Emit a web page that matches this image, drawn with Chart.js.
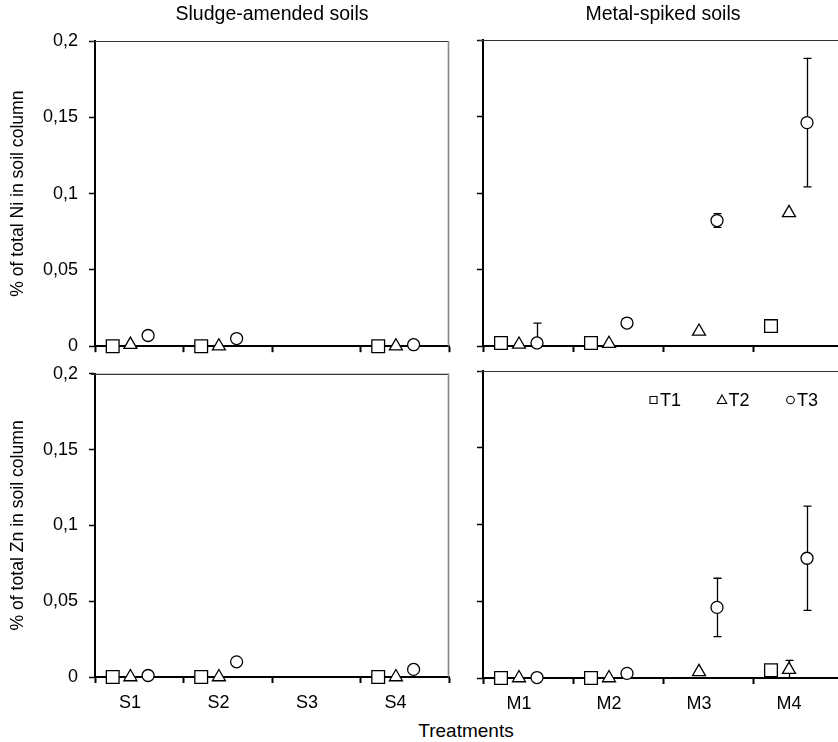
<!DOCTYPE html>
<html>
<head>
<meta charset="utf-8">
<script src="https://cdn.jsdelivr.net/npm/chart.js@4.4.1/dist/chart.umd.min.js"></script>
<style>
  body { margin: 0; width: 838px; height: 742px; overflow: hidden; background: #fff; position: relative;
         font-family: "Liberation Sans", Arial, sans-serif; }
  canvas { position: absolute; }
  #xTitle { position: absolute; left: 366px; width: 200px; top: 720px; text-align: center; font-size: 19px; color: #000; }
</style>
</head>
<body>
<canvas id="niSludge" width="460" height="368" style="left:0;top:0"></canvas>
<canvas id="niMetal"  width="400" height="360" style="left:460px;top:0"></canvas>
<canvas id="znSludge" width="460" height="368" style="left:0;top:352px"></canvas>
<canvas id="znMetal"  width="400" height="360" style="left:460px;top:360px"></canvas>
<div id="xTitle">Treatments</div>

<script>
// --- Data ---
const sludgeLabels = ["S1", "S2", "S3", "S4"];
const metalLabels  = ["M1", "M2", "M3", "M4"];
const seriesNames  = ["T1", "T2", "T3"];
const yTickLabels  = ["0", "0,05", "0,1", "0,15", "0,2"];

const niSludgeT1 = [0, 0, null, 0];
const niSludgeT2 = [0.001, 0, null, 0];
const niSludgeT3 = [0.007, 0.005, null, 0.001];

const niMetalT1    = [0.002, 0.002, null, 0.013];
const niMetalT2    = [0.001, 0.0015, 0.0095, 0.087];
const niMetalT3    = [0.002, 0.015, 0.082, 0.146];
const niMetalT3Err = [0.013, 0, 0.0045, 0.042];

const znSludgeT1 = [0, 0, null, 0];
const znSludgeT2 = [0, 0, null, 0];
const znSludgeT3 = [0.001, 0.010, null, 0.005];

const znMetalT1    = [0, 0, null, 0.005];
const znMetalT2    = [0, 0, 0.004, 0.0055];
const znMetalT2Err = [0, 0, 0, 0.006];
const znMetalT3    = [0.0003, 0.003, 0.046, 0.078];
const znMetalT3Err = [0, 0, 0.019, 0.034];

// --- Styling ---
const FONT = '"Liberation Sans", Arial, sans-serif';
const seriesOffset = [-0.3, -0.1, 0.1];
const markerStyle = [
  { pointStyle: "rect",     pointRadius: 9 },
  { pointStyle: "triangle", pointRadius: 7.5 },
  { pointStyle: "circle",   pointRadius: 6 }
];

Chart.defaults.font.family = FONT;
Chart.defaults.color = "#000";

// error bars drawn under the markers, clipped to the plot
const errorBars = {
  id: "errorBars",
  beforeDatasetsDraw(chart) {
    const { ctx, chartArea, scales: { x, y } } = chart;
    ctx.save();
    ctx.beginPath();
    ctx.rect(chartArea.left, chartArea.top, chartArea.width, chartArea.height);
    ctx.clip();
    ctx.strokeStyle = "#000";
    ctx.lineWidth = 1.3;
    chart.data.datasets.forEach(ds => {
      ds.data.forEach(p => {
        if (!p.err) return;
        const px = Math.round(x.getPixelForValue(p.x)) + 0.5;
        const top = y.getPixelForValue(p.y + p.err);
        const bot = y.getPixelForValue(p.y - p.err);
        ctx.beginPath();
        ctx.moveTo(px, top); ctx.lineTo(px, bot);
        ctx.moveTo(px - 4, top); ctx.lineTo(px + 4, top);
        ctx.moveTo(px - 4, bot); ctx.lineTo(px + 4, bot);
        ctx.stroke();
      });
    });
    ctx.restore();
  }
};

// frame: dark top line, grey right line
const frame = {
  id: "frame",
  beforeDatasetsDraw(chart) {
    const { ctx, chartArea: a } = chart;
    ctx.save();
    ctx.strokeStyle = "#333";
    ctx.lineWidth = 1.2;
    ctx.beginPath();
    ctx.moveTo(a.left - 4, a.top + 0.5); ctx.lineTo(a.right, a.top + 0.5);
    ctx.stroke();
    ctx.strokeStyle = "#888";
    ctx.lineWidth = 1.6;
    ctx.beginPath();
    ctx.moveTo(a.right - 0.5, a.top); ctx.lineTo(a.right - 0.5, a.bottom);
    ctx.stroke();
    ctx.restore();
  }
};

// legend placed inside the plot (bottom-right panel only)
const insideLegend = {
  id: "insideLegend",
  afterDraw(chart, args, opts) {
    if (!opts.show) return;
    const { ctx, chartArea } = chart;
    const y = chartArea.top + 29;
    ctx.save();
    ctx.font = "18px " + FONT;
    ctx.textBaseline = "middle";
    ctx.lineWidth = 1.1;
    ctx.strokeStyle = "#000";
    chart.data.datasets.forEach((ds, i) => {
      const x = chartArea.left + 170.5 + i * 68.5;
      ctx.fillStyle = "#fff";
      ctx.beginPath();
      if (ds.pointStyle === "rect") {
        ctx.rect(x - 3.5, y - 3.5, 7, 7);
      } else if (ds.pointStyle === "triangle") {
        ctx.moveTo(x, y - 5); ctx.lineTo(x + 4.7, y + 3.5); ctx.lineTo(x - 4.7, y + 3.5); ctx.closePath();
      } else {
        ctx.arc(x, y, 3.8, 0, Math.PI * 2);
      }
      ctx.fill(); ctx.stroke();
      ctx.fillStyle = "#000";
      ctx.fillText(ds.label, x + 6.5, y + 1);
    });
    ctx.restore();
  }
};

function buildDatasets(series, errs) {
  return series.map((values, s) => ({
    label: seriesNames[s],
    data: values
      .map((v, i) => v === null ? null : { x: i + 1 + seriesOffset[s], y: v, err: errs[s] ? errs[s][i] : 0 })
      .filter(p => p !== null),
    pointStyle: markerStyle[s].pointStyle,
    pointRadius: markerStyle[s].pointRadius,
    pointBackgroundColor: "#fff",
    pointBorderColor: "#000",
    pointBorderWidth: 1.3,
    clip: false
  }));
}

function makePanel(id, cfg) {
  const boundaries = cfg.labels.map((_, i) => i + 0.5).concat(cfg.labels.length + 0.5);
  return new Chart(document.getElementById(id), {
    type: "scatter",
    data: { datasets: buildDatasets(cfg.series, cfg.errs) },
    options: {
      responsive: false,
      animation: false,
      devicePixelRatio: 1,
      layout: { padding: { top: cfg.padTop, right: cfg.padRight, left: 0, bottom: 0 } },
      plugins: {
        legend: { display: false },
        tooltip: { enabled: false },
        title: {
          display: !!cfg.title,
          text: cfg.title,
          fullSize: false,
          color: "#000",
          font: { size: 19.5, weight: "normal" },
          padding: { top: 3, bottom: cfg.titleGap || 0 }
        },
        insideLegend: { show: !!cfg.legend }
      },
      scales: {
        x: {
          type: "linear",
          min: 0.5,
          max: cfg.labels.length + 0.5,
          afterBuildTicks: s => { s.ticks = boundaries.map(v => ({ value: v })); },
          afterFit: s => { s.height = cfg.xAxisH; },
          ticks: {
            display: cfg.showX,
            autoSkip: false,
            maxRotation: 0,
            labelOffset: cfg.labelOffset,
            padding: 9,
            color: "#000",
            font: { size: 18 },
            callback: (v, i) => cfg.labels[i] || ""
          },
          grid: { drawOnChartArea: false, tickLength: 6, tickColor: "#000", tickWidth: 2 },
          border: { display: true, color: "#000", width: 2 }
        },
        y: {
          min: 0,
          max: 0.2,
          afterFit: s => { s.width = cfg.yAxisW; },
          ticks: {
            display: !!cfg.yTitle,
            stepSize: 0.05,
            padding: 11,
            color: "#000",
            font: { size: 18 },
            callback: v => yTickLabels[Math.round(v / 0.05)]
          },
          grid: { drawOnChartArea: false, tickLength: 6, tickColor: "#000", tickWidth: 1.5 },
          border: { display: true, color: "#000", width: 2 },
          title: {
            display: !!cfg.yTitle,
            text: cfg.yTitle,
            color: "#000",
            font: { size: 17.6 },
            padding: { top: 8, bottom: 0 }
          }
        }
      }
    },
    plugins: [frame, errorBars, insideLegend]
  });
}

makePanel("niSludge", {
  labels: sludgeLabels,
  series: [niSludgeT1, niSludgeT2, niSludgeT3],
  errs: [null, null, null],
  title: "Sludge-amended soils", titleGap: 14.6,
  yTitle: "% of total Ni in soil column",
  yAxisW: 95, xAxisH: 20, padTop: 0, padRight: 11,
  showX: false, labelOffset: 35
});

makePanel("niMetal", {
  labels: metalLabels,
  series: [niMetalT1, niMetalT2, niMetalT3],
  errs: [null, null, niMetalT3Err],
  title: "Metal-spiked soils", titleGap: 13.6,
  yAxisW: 23, xAxisH: 14, padTop: 0, padRight: 17,
  showX: false, labelOffset: 36
});

makePanel("znSludge", {
  labels: sludgeLabels,
  series: [znSludgeT1, znSludgeT2, znSludgeT3],
  errs: [null, null, null],
  yTitle: "% of total Zn in soil column",
  yAxisW: 95, xAxisH: 43, padTop: 0, padRight: 11,
  showX: true, labelOffset: 35
});

makePanel("znMetal", {
  labels: metalLabels,
  series: [znMetalT1, znMetalT2, znMetalT3],
  errs: [null, znMetalT2Err, znMetalT3Err],
  yAxisW: 23, xAxisH: 42, padTop: 11, padRight: 17,
  showX: true, labelOffset: 36, legend: true
});
</script>
</body>
</html>
